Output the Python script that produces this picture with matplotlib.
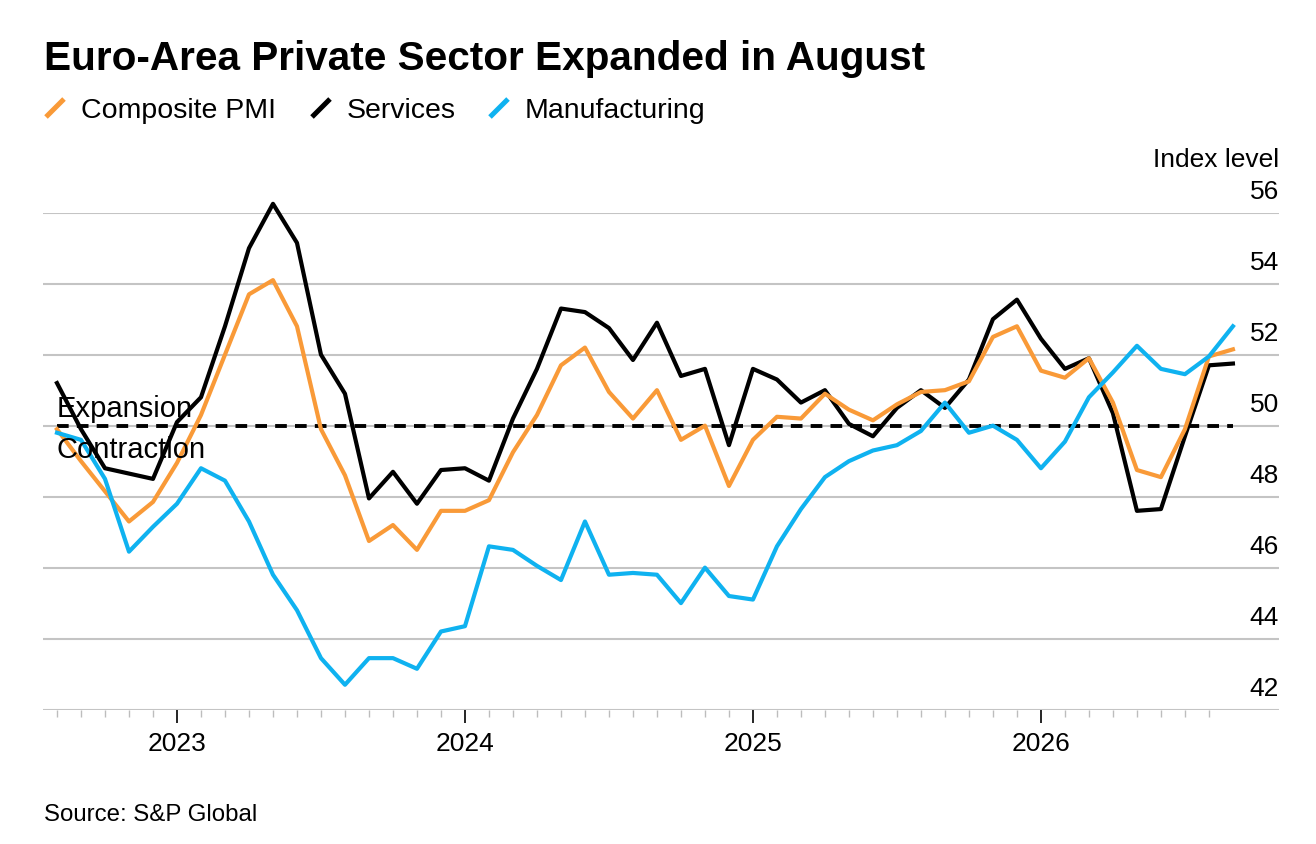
import matplotlib
matplotlib.use("Agg")
import matplotlib.pyplot as plt
from matplotlib.lines import Line2D

plt.rcParams['font.family'] = ['Liberation Sans', 'DejaVu Sans']

# monthly readings, Aug 2022 -> Sep 2026 (index 0..49)
composite = [49.9, 49.0, 48.15, 47.3, 47.85, 48.95, 50.3, 52.0, 53.7, 54.1,
             52.8, 49.9, 48.6, 46.75, 47.2, 46.5, 47.6, 47.6, 47.9, 49.25,
             50.3, 51.7, 52.2, 50.95, 50.2, 51.0, 49.6, 50.0, 48.3, 49.6,
             50.25, 50.2, 50.9, 50.45, 50.15, 50.6, 50.95, 51.0, 51.25, 52.5,
             52.8, 51.55, 51.35, 51.9, 50.65, 48.75, 48.55, 49.9, 51.95, 52.15]
services = [51.2, 49.9, 48.8, 48.65, 48.5, 50.1, 50.8, 52.8, 55.0, 56.25,
            55.15, 52.0, 50.9, 47.95, 48.7, 47.8, 48.75, 48.8, 48.45, 50.2,
            51.6, 53.3, 53.2, 52.75, 51.85, 52.9, 51.4, 51.6, 49.45, 51.6,
            51.3, 50.65, 51.0, 50.05, 49.7, 50.5, 51.0, 50.5, 51.3, 53.0,
            53.55, 52.45, 51.6, 51.9, 50.35, 47.6, 47.65, 49.7, 51.7, 51.75]
manufacturing = [49.8, 49.6, 48.5, 46.45, 47.15, 47.8, 48.8, 48.45, 47.3, 45.8,
                 44.8, 43.45, 42.7, 43.45, 43.45, 43.15, 44.2, 44.35, 46.6, 46.5,
                 46.05, 45.65, 47.3, 45.8, 45.85, 45.8, 45.0, 46.0, 45.2, 45.1,
                 46.6, 47.65, 48.55, 49.0, 49.3, 49.45, 49.85, 50.65, 49.8, 50.0,
                 49.6, 48.8, 49.55, 50.8, 51.5, 52.25, 51.6, 51.45, 51.95, 52.8]
months = list(range(len(composite)))
year_ticks = [5, 17, 29, 41]
year_labels = ['2023', '2024', '2025', '2026']
y_levels = [42, 44, 46, 48, 50, 52, 54, 56]

ORANGE = '#f99a38'
BLUE = '#0fb2f0'
GRID = '#c4c4c4'

W, H = 1316, 844
fig = plt.figure(figsize=(W / 100, H / 100), dpi=100)
ax = fig.add_axes([43 / W, 1 - 709.6 / H, 1236 / W, (709.6 - 212.7) / H])

ax.set_xlim(-0.583, 50.92)
ax.set_ylim(42, 56)

for v in y_levels:
    ax.axhline(v, color=GRID, lw=1.5, zorder=1)
    ax.annotate(str(v), xy=(1.0, v), xycoords=ax.get_yaxis_transform(),
                xytext=(0, 10), textcoords='offset points',
                ha='right', va='baseline', fontsize=19)
ax.annotate('Index level', xy=(1.0, 56), xycoords=ax.get_yaxis_transform(),
            xytext=(0, 33), textcoords='offset points',
            ha='right', va='baseline', fontsize=19)

ax.plot(months, [50] * len(months), color='black', lw=2.8,
        dashes=[3, 2.1], zorder=3)
ax.plot(months, services, color='black', lw=3.0, zorder=4, clip_on=False)
ax.plot(months, composite, color=ORANGE, lw=3.0, zorder=5, clip_on=False)
ax.plot(months, manufacturing, color=BLUE, lw=3.0, zorder=6, clip_on=False)

ax.text(0, 50.23, 'Expansion', fontsize=21, va='baseline', ha='left', zorder=7)
ax.text(0, 49.72, 'Contraction', fontsize=21, va='top', ha='left', zorder=7)

for s in ax.spines.values():
    s.set_visible(False)
ax.set_yticks([])
ax.set_xticks(year_ticks)
ax.set_xticklabels(year_labels, fontsize=19)
ax.set_xticks(range(0, 49), minor=True)
ax.tick_params(axis='x', which='major', length=9.4, width=1.2, color='black',
               pad=7)
ax.tick_params(axis='x', which='minor', length=5, width=1.0, color='#bdbdbd')

# title, legend, source
fig.text(44 / W, 1 - 70 / H, 'Euro-Area Private Sector Expanded in August',
         fontsize=29.2, fontweight='bold', va='baseline', ha='left')

legend_items = [('Composite PMI', ORANGE, 55, 81),
                ('Services', 'black', 321, 347),
                ('Manufacturing', BLUE, 499, 525)]
for label, col, sx, tx in legend_items:
    fig.add_artist(Line2D([(sx - 9) / W, (sx + 9) / W],
                          [1 - 117 / H, 1 - 99 / H],
                          transform=fig.transFigure, color=col, lw=3.6,
                          solid_capstyle='butt'))
    fig.text(tx / W, 1 - 118 / H, label, fontsize=20.5,
             va='baseline', ha='left')

fig.text(44 / W, 1 - 821 / H, 'Source: S&P Global', fontsize=17.3,
         va='baseline', ha='left')

fig.savefig('out.png', dpi=100)
